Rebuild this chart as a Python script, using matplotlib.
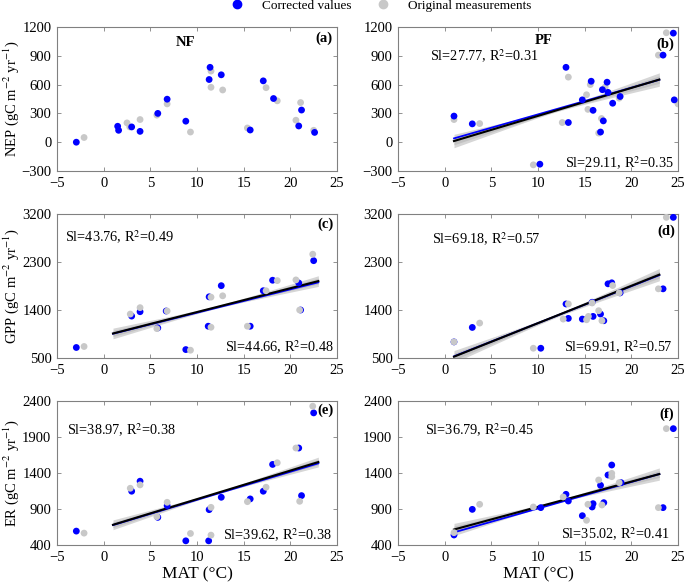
import numpy as np
import matplotlib
matplotlib.use("Agg")
import matplotlib.pyplot as plt
from matplotlib.lines import Line2D

plt.rcParams['font.family'] = ['Liberation Serif', 'DejaVu Serif']
plt.rcParams['mathtext.fontset'] = 'stix'

# ---- data ----
# (a) NF NEP
a_x_cor = [-2.93, 1.5, 1.6, 3.0, 3.9, 5.8, 6.8, 8.8, 11.3, 11.4, 12.6, 15.7, 17.1, 18.2, 20.9, 21.2, 22.6]
a_y_cor = [0, 166, 124, 159, 113, 300, 448, 219, 653, 780, 702, 127, 639, 455, 169, 335, 102]
a_x_ori = [-2.1, 2.5, 2.8, 3.9, 5.7, 6.8, 9.3, 11.5, 11.5, 12.75, 15.4, 17.4, 18.6, 20.6, 21.1, 22.5]
a_y_ori = [49, 201, 159, 236, 282, 399, 106, 741, 572, 544, 148, 568, 431, 229, 413, 124]

# (b) PF NEP
b_x_cor = [1.0, 2.96, 10.2, 13.0, 13.25, 14.75, 15.7, 15.9, 16.7, 16.9, 17.0, 17.4, 17.5, 18.0, 18.8, 23.4, 24.5, 24.6]
b_y_cor = [272, 191, -229, 780, 205, 441, 635, 332, 106, 547, 222, 625, 519, 406, 476, 907, 1136, 441]
b_x_ori = [1.0, 3.75, 9.5, 12.6, 13.25, 15.2, 15.35, 15.6, 16.5, 16.8, 17.2, 18.7, 22.9, 23.75, 25.0]
b_y_ori = [236, 194, -236, 205, 678, 494, 342, 600, 95, 247, 575, 459, 907, 1140, 399]

# (c) NF GPP
c_x_cor = [-2.93, 3.0, 3.9, 5.8, 6.7, 8.8, 11.2, 11.3, 12.6, 15.7, 17.1, 18.1, 20.9, 21.1, 22.5]
c_y_cor = [697, 1286, 1368, 1064, 1381, 658, 1096, 1647, 1856, 1096, 1761, 1958, 1907, 1400, 2325]
c_x_ori = [-2.1, 2.85, 3.9, 5.7, 6.8, 9.3, 11.5, 11.5, 12.75, 15.4, 17.4, 18.6, 20.6, 21.0, 22.4]
c_y_ori = [716, 1324, 1444, 1051, 1381, 646, 1641, 1077, 1666, 1096, 1761, 1951, 1964, 1400, 2446]

# (d) PF GPP
d_x_cor = [1.0, 2.96, 10.3, 13.0, 13.25, 14.75, 15.8, 15.9, 16.7, 17.05, 17.5, 17.9, 18.8, 23.4, 24.5]
d_y_cor = [802, 1073, 683, 1513, 1243, 1230, 1545, 1280, 1324, 1199, 1891, 1910, 1721, 1797, 3137]
d_x_ori = [1.0, 3.75, 9.5, 12.7, 13.25, 15.2, 15.4, 15.8, 16.5, 16.85, 18.0, 18.7, 22.9, 23.75]
d_y_ori = [802, 1155, 683, 1230, 1513, 1217, 1280, 1532, 1387, 1199, 1859, 1721, 1797, 3137]

# (e) NF ER
e_x_cor = [-2.93, 3.0, 3.9, 5.8, 6.8, 8.8, 11.3, 11.25, 12.6, 15.7, 17.1, 18.1, 20.9, 21.2, 22.5]
e_y_cor = [593, 1147, 1286, 784, 947, 458, 891, 458, 1063, 1040, 1147, 1519, 1747, 1086, 2235]
e_x_ori = [-2.1, 2.85, 3.9, 5.7, 6.8, 9.3, 11.5, 11.5, 15.4, 17.4, 18.6, 20.6, 21.0, 22.4]
e_y_ori = [565, 1188, 1235, 793, 993, 560, 923, 537, 1002, 1202, 1542, 1747, 1007, 2328]

# (f) PF ER
f_x_cor = [1.0, 2.96, 10.3, 13.0, 13.25, 14.75, 15.8, 15.9, 16.7, 17.05, 17.5, 17.9, 18.9, 23.4, 24.5]
f_y_cor = [539, 895, 919, 1104, 1011, 807, 928, 974, 1229, 988, 1372, 1511, 1266, 919, 2016]
f_x_ori = [1.0, 3.75, 9.5, 12.7, 15.2, 15.35, 16.5, 16.85, 17.9, 17.9, 18.7, 22.9, 23.75]
f_y_ori = [571, 965, 928, 1067, 743, 965, 1303, 956, 1395, 1349, 1266, 919, 2016]

# regression lines: [slope, intercept] for corrected (blue) and original (black)
fit_cor = {'b': [27.77, 12], 'c': [43.76, 912], 'd': [69.18, 462], 'e': [38.97, 638], 'f': [36.79, 539]}
fit_ori = {'b': [29.11, -17], 'c': [44.66, 915], 'd': [69.91, 455], 'e': [39.62, 641], 'f': [35.02, 580]}
# confidence fan half widths [centre, ends]
fan_width = {'b': [15, 70], 'c': [25, 100], 'd': [30, 115], 'e': [15, 68], 'f': [15, 85]}
fit_range = [1, 23]

label_cor = {'b': 'Sl=27.77, R$^2$=0.31', 'c': 'Sl=43.76, R$^2$=0.49', 'd': 'Sl=69.18, R$^2$=0.57',
             'e': 'Sl=38.97, R$^2$=0.38', 'f': 'Sl=36.79, R$^2$=0.45'}
label_ori = {'b': 'Sl=29.11, R$^2$=0.35', 'c': 'Sl=44.66, R$^2$=0.48', 'd': 'Sl=69.91, R$^2$=0.57',
             'e': 'Sl=39.62, R$^2$=0.38', 'f': 'Sl=35.02, R$^2$=0.41'}

panels = {
    'a': (a_x_cor, a_y_cor, a_x_ori, a_y_ori),
    'b': (b_x_cor, b_y_cor, b_x_ori, b_y_ori),
    'c': (c_x_cor, c_y_cor, c_x_ori, c_y_ori),
    'd': (d_x_cor, d_y_cor, d_x_ori, d_y_ori),
    'e': (e_x_cor, e_y_cor, e_x_ori, e_y_ori),
    'f': (f_x_cor, f_y_cor, f_x_ori, f_y_ori),
}
ylims = {'a': (-300, 1200), 'b': (-300, 1200), 'c': (500, 3200), 'd': (500, 3200),
         'e': (400, 2400), 'f': (400, 2400)}
yticks = {'a': [-300, 0, 300, 600, 900, 1200], 'c': [500, 1400, 2300, 3200], 'e': [400, 900, 1400, 1900, 2400]}
yticks['b'] = yticks['a']; yticks['d'] = yticks['c']; yticks['f'] = yticks['e']

BLUE = '#0000ff'
GRAY = '#c8c8c8'

fig = plt.figure(figsize=(6.85, 5.85), dpi=100)
W, H = 685.0, 585.0
lefts = {'a': 57, 'b': 398, 'c': 57, 'd': 398, 'e': 57, 'f': 398}
tops = {'a': 27, 'b': 27, 'c': 214, 'd': 214, 'e': 401, 'f': 401}
axw, axh = 280, 144

axes = {}
for k in 'abcdef':
    ax = fig.add_axes([lefts[k] / W, 1 - (tops[k] + axh) / H, axw / W, axh / H])
    axes[k] = ax
    xc, yc, xo, yo = panels[k]
    blue_top = k in 'ab'
    ax.scatter(xo, yo, s=24, color=GRAY, edgecolors='none', zorder=3 if blue_top else 5)
    ax.scatter(xc, yc, s=24, color=BLUE, edgecolors='none', zorder=4)

    if k in fit_cor:
        xx = np.linspace(fit_range[0], fit_range[1], 100)
        s0, i0 = fit_ori[k]
        s1, i1 = fit_cor[k]
        wm, we = fan_width[k]
        mid = 0.5 * (fit_range[0] + fit_range[1])
        half = 0.5 * (fit_range[1] - fit_range[0])
        hw = np.sqrt(wm ** 2 + (we ** 2 - wm ** 2) * ((xx - mid) / half) ** 2)
        yy = s0 * xx + i0
        ax.fill_between(xx, yy - hw, yy + hw, color='#d6d6d6', lw=0, zorder=1)
        ax.fill_between(xx, yy - 0.55 * hw, yy + 0.55 * hw, color='#c2c2c2', lw=0, zorder=1)
        ax.plot(xx, s1 * xx + i1, color=BLUE, lw=1.3, zorder=2)
        ax.plot(xx, yy, color='black', lw=1.5, zorder=2)

    ax.set_xlim(-5, 25)
    ax.set_ylim(*ylims[k])
    ax.set_xticks([-5, 0, 5, 10, 15, 20, 25])
    ax.set_yticks(yticks[k])
    ax.tick_params(direction='in', top=True, right=True, length=3, width=0.6,
                   color='#808080', labelsize=10.5, pad=4)
    for sp in ax.spines.values():
        sp.set_color('#808080')
        sp.set_linewidth(0.8)

# panel letters and titles
letter_pos = {'a': (0.955, 0.92), 'b': (0.955, 0.88), 'c': (0.96, 0.93),
              'd': (0.96, 0.88), 'e': (0.96, 0.935), 'f': (0.96, 0.905)}
for k, (px, py) in letter_pos.items():
    axes[k].text(px, py, '(%s)' % k, transform=axes[k].transAxes, ha='center', va='center',
                 fontsize=10.5, fontweight='bold')
axes['a'].text(0.46, 0.89, 'NF', transform=axes['a'].transAxes, ha='center', va='center',
               fontsize=10.5, fontweight='bold')
axes['b'].text(0.52, 0.905, 'PF', transform=axes['b'].transAxes, ha='center', va='center',
               fontsize=10.5, fontweight='bold')

# slope labels
cor_pos = {'b': (0.113, 0.80), 'c': (0.03, 0.84), 'd': (0.12, 0.826), 'e': (0.036, 0.80), 'f': (0.095, 0.80)}
ori_pos = {'b': (0.985, 0.055), 'c': (0.99, 0.072), 'd': (0.98, 0.077), 'e': (0.98, 0.07), 'f': (0.97, 0.075)}
for k in cor_pos:
    axes[k].text(*cor_pos[k], label_cor[k], transform=axes[k].transAxes, ha='left', va='center',
                 fontsize=10.3)
    axes[k].text(*ori_pos[k], label_ori[k], transform=axes[k].transAxes, ha='right', va='center',
                 fontsize=10.3)

# axis labels
unit = ' (gC m$^{-2}$ yr$^{-1}$)'
for k, name in zip('ace', ['NEP', 'GPP', 'ER']):
    axes[k].set_ylabel(name + unit, fontsize=10.5)
    axes[k].yaxis.set_label_coords(-0.13, 0.5)
for k in 'ef':
    axes[k].set_xlabel('MAT (\u00b0C)', fontsize=12.5, labelpad=2)

handles = [Line2D([], [], marker='o', ls='none', color=BLUE, markersize=6, label='Corrected values'),
           Line2D([], [], marker='o', ls='none', color=GRAY, markersize=6, label='Original measurements')]
fig.legend(handles=handles, loc='center', bbox_to_anchor=(0.555, 0.99), ncol=2, frameon=False,
           fontsize=9.5, handletextpad=1.3, columnspacing=1.8, handlelength=1.2)

fig.savefig('out.png', dpi=100)
